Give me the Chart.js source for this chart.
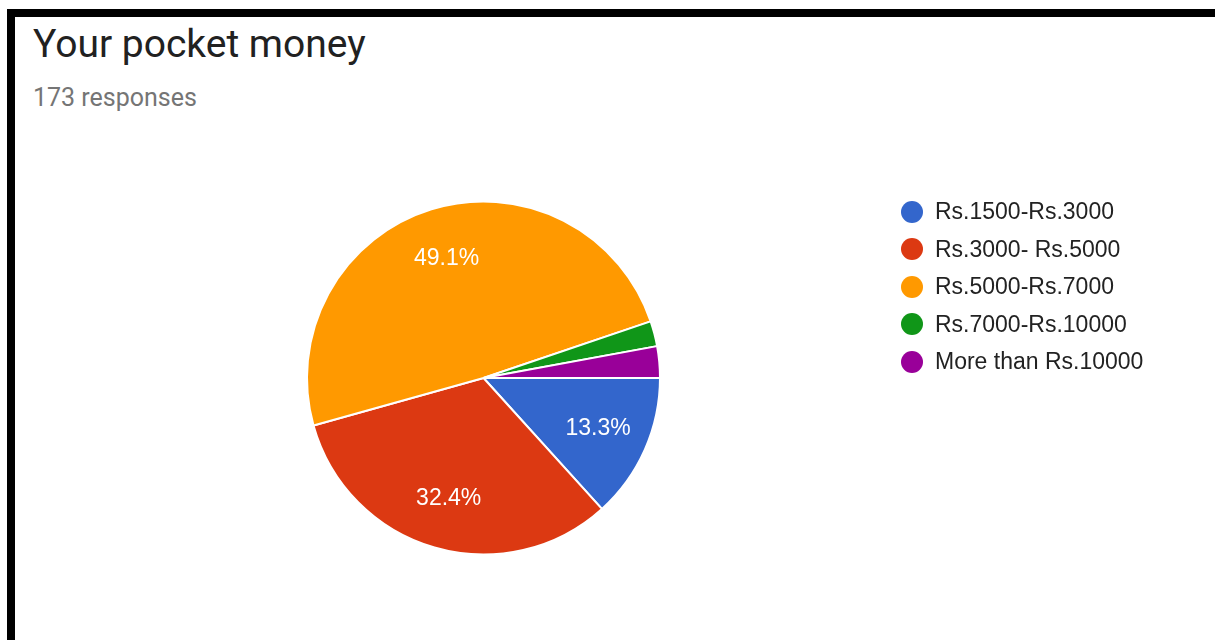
<!DOCTYPE html>
<html>
<head>
<meta charset="utf-8">
<script src="https://cdn.jsdelivr.net/npm/chart.js@4.4.0/dist/chart.umd.min.js"></script>
<style>
    html, body {
        margin: 0;
        padding: 0;
        background: #fff;
    }
    #marco {
        position: absolute;
        left: 7px;
        top: 9px;
        width: 1208px;
        height: 631px;
        border-top: 8px solid #000;
        border-left: 8px solid #000;
        box-sizing: border-box;
    }
    #titulo {
        position: absolute;
        left: 33px;
        top: 25px;
        font-family: Roboto, sans-serif;
        font-size: 39px;
        line-height: 1;
        color: #212121;
        white-space: nowrap;
    }
    #respuestas {
        position: absolute;
        left: 33px;
        top: 85px;
        font-family: Roboto, sans-serif;
        font-size: 25px;
        line-height: 1;
        color: #757575;
        white-space: nowrap;
    }
    #grafica {
        position: absolute;
        left: 0;
        top: 0;
    }
    #leyenda {
        position: absolute;
        left: 901px;
        top: 193px;
        margin: 0;
        padding: 0;
        list-style: none;
        font-family: Arial, "Liberation Sans", sans-serif;
        font-size: 23px;
        color: #222;
    }
    #leyenda li {
        height: 37.5px;
        display: flex;
        align-items: center;
        white-space: nowrap;
    }
    #leyenda .punto {
        width: 22px;
        height: 22px;
        border-radius: 50%;
        margin-right: 12px;
        flex: none;
    }
</style>
</head>
<body>
<div id="marco"></div>
<div id="titulo">Your pocket money</div>
<div id="respuestas">173 responses</div>
<canvas id="grafica" width="1215" height="640"></canvas>
<ul id="leyenda"></ul>

<script>
// #region Datos
let categorias = [
    "Rs.1500-Rs.3000",
    "Rs.3000- Rs.5000",
    "Rs.5000-Rs.7000",
    "Rs.7000-Rs.10000",
    "More than Rs.10000",
]
let respuestas = [23, 56, 85, 4, 5]
let colores = ["#3366cc", "#dc3912", "#ff9900", "#109618", "#990099"]

let total = respuestas.reduce((a, b) => a + b, 0)

// #region Etiquetas de porcentaje dentro de cada sector
var etiquetasPorcentaje = {
    id: "etiquetasPorcentaje",
    afterDatasetsDraw: function (chart) {
        var ctx = chart.ctx;
        var arcos = chart.getDatasetMeta(0).data;
        ctx.save();
        ctx.fillStyle = "#fff";
        ctx.font = "23px Arial, 'Liberation Sans', sans-serif";
        ctx.textAlign = "center";
        ctx.textBaseline = "middle";
        arcos.forEach(function (arco, i) {
            var pct = respuestas[i] / total * 100;
            if (pct < 5) return;
            var p = arco.getProps(["x", "y", "startAngle", "endAngle", "outerRadius"], true);
            var medio = (p.startAngle + p.endAngle) / 2;
            var r = p.outerRadius * 0.71;
            ctx.fillText(pct.toFixed(1) + "%", p.x + Math.cos(medio) * r, p.y + Math.sin(medio) * r);
        });
        ctx.restore();
    }
};

// #region Gráfica
var lienzo = document.getElementById("grafica").getContext("2d");
var graficaDinero = new Chart(lienzo, {
    type: "pie",
    data: {
        labels: categorias,
        datasets: [
            {
                data: respuestas,
                backgroundColor: colores,
                borderColor: "#fff",
                borderWidth: 2,
            },
        ],
    },
    options: {
        responsive: false,
        animation: false,
        rotation: 90,
        layout: {
            padding: { left: 306, right: 554, top: 200, bottom: 84 }
        },
        plugins: {
            legend: { display: false },
            tooltip: { enabled: false }
        }
    },
    plugins: [etiquetasPorcentaje],
});

// #region Leyenda
let leyenda = document.getElementById("leyenda")
for (let i = 0; i < categorias.length; i++) {
    let li = document.createElement("li")
    let punto = document.createElement("span")
    punto.className = "punto"
    punto.style.background = colores[i]
    li.appendChild(punto)
    li.appendChild(document.createTextNode(categorias[i]))
    leyenda.appendChild(li)
}
</script>
</body>
</html>
